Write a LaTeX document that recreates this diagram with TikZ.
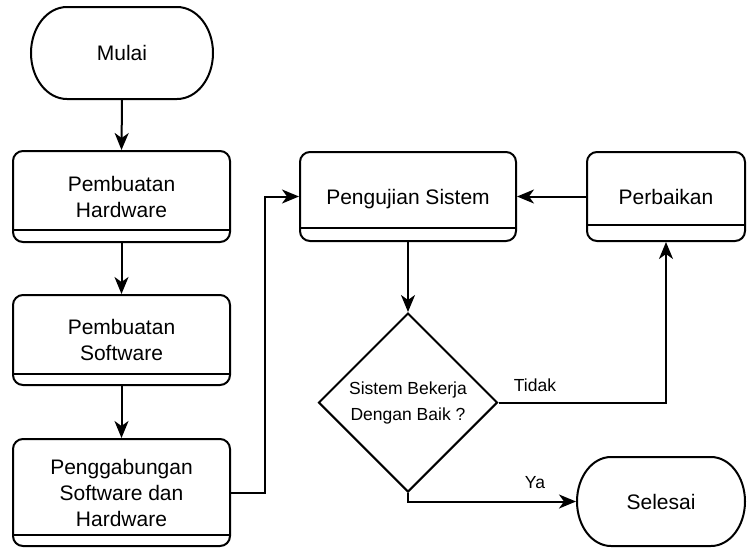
\documentclass[tikz,border=0pt]{standalone}
\usepackage{fontspec}
\setmainfont{Liberation Sans}
\usetikzlibrary{shapes.geometric,arrows.meta}
\begin{document}
\begin{tikzpicture}[x=1pt,y=-1pt,
  line width=2pt,
  arr/.style={-{Stealth[length=17pt,width=14pt,inset=5pt]}},
  maintext/.style={font=\fontsize{21}{26}\selectfont, align=center, inner sep=0pt},
  oneline/.style={text height=15pt, text depth=0pt},
  proc/.style={draw, rounded corners=10pt, maintext},
  term/.style={maintext, oneline},
  dec/.style={draw, diamond, inner sep=0pt, minimum width=179pt, minimum height=179pt, align=center, font=\fontsize{17.5}{26}\selectfont},
  lbl/.style={font=\fontsize{17.5}{21}\selectfont, inner sep=0pt}
]
\useasboundingbox (0,0) rectangle (747,547);

% terminators (shape drawn directly, node carries the text and name)
\node[term, minimum width=182pt, minimum height=92pt] (mulai) at (122,53) {Mulai};
\draw (67,7) -- (177,7) arc[start angle=-90,end angle=90,x radius=36,y radius=46]
      -- (67,99) arc[start angle=90,end angle=270,x radius=36,y radius=46] -- cycle;

\node[term, minimum width=168pt, minimum height=89pt] (sel) at (661,501.5) {Selesai};
\draw (611,457) -- (711,457) arc[start angle=-90,end angle=90,x radius=34,y radius=44.5]
      -- (611,546) arc[start angle=90,end angle=270,x radius=34,y radius=44.5] -- cycle;

% process boxes
\node[proc, minimum width=217pt, minimum height=91pt] (hw) at (121.5,196.5) {Pembuatan\\Hardware};
\draw ([yshift=13pt]hw.south west) -- ([yshift=13pt]hw.south east);

\node[proc, minimum width=217pt, minimum height=90pt] (sw) at (121.5,340) {Pembuatan\\Software};
\draw ([yshift=12pt]sw.south west) -- ([yshift=12pt]sw.south east);

\node[proc, minimum width=217pt, minimum height=107pt] (gab) at (121.5,492.5) {Penggabungan\\Software dan\\Hardware};
\draw ([yshift=12pt]gab.south west) -- ([yshift=12pt]gab.south east);

\node[proc, oneline, minimum width=216pt, minimum height=89pt] (uji) at (408,196.5) {Pengujian Sistem};
\draw ([yshift=14pt]uji.south west) -- ([yshift=14pt]uji.south east);

\node[proc, oneline, minimum width=158pt, minimum height=89pt] (perb) at (666,196.5) {Perbaikan};
\draw ([yshift=17pt]perb.south west) -- ([yshift=17pt]perb.south east);

% decision
\node[dec] (cek) at (408,402.5) {Sistem Bekerja\\Dengan Baik ?};

% connectors
\draw[arr] (mulai.south) -- (hw.north);
\draw[arr] (hw.south) -- (sw.north);
\draw[arr] (sw.south) -- (gab.north);
\coordinate (k1) at (265,492.5);
\draw[arr] (gab.east) -- (k1) |- (uji.west);
\draw[arr] (perb.west) -- (uji.east);
\draw[arr] (uji.south) -- (cek.north);
\draw[arr] (cek.east) -| (perb.south);
\draw[arr] (cek.south) |- (sel.west);

% labels
\node[lbl] (tidak) at (535,385) {Tidak};
\node[lbl] (ya) at (535,483) {Ya};
\end{tikzpicture}
\end{document}
